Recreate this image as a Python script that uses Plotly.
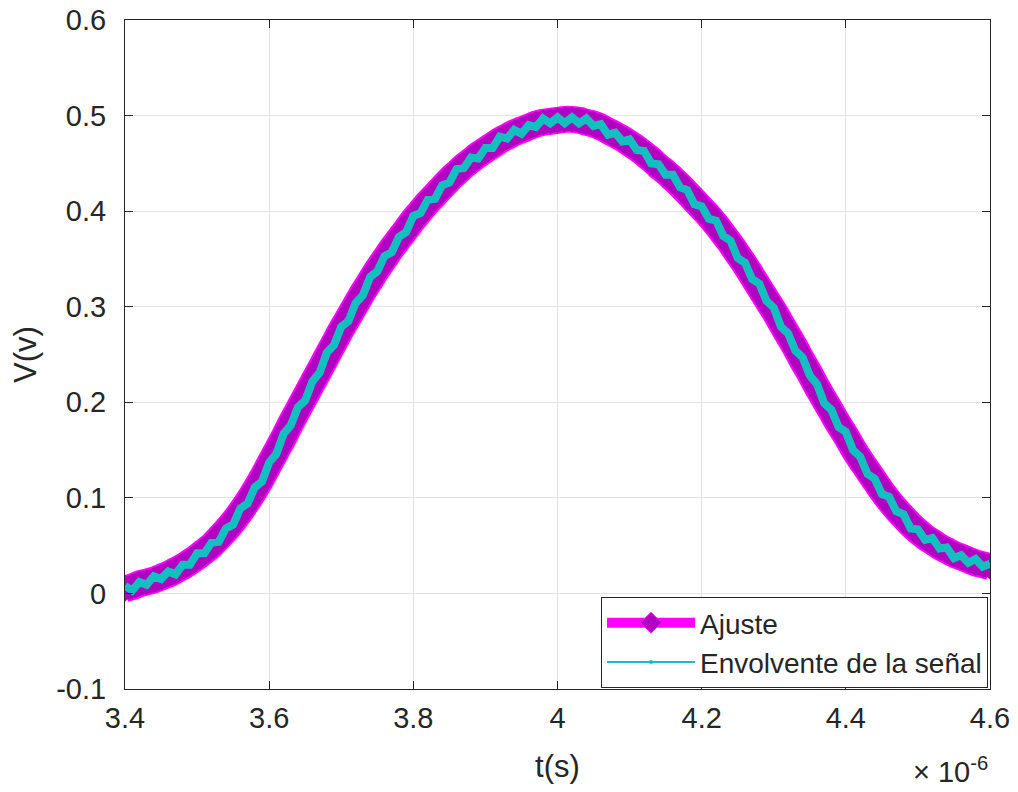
import plotly.graph_objects as go

# time axis in microseconds (the axis shows a x10^-6 multiplier)
t_us = [round(3.40 + 0.01 * i, 2) for i in range(121)]

ajuste = [
    0.005, 0.007, 0.010, 0.012, 0.014, 0.017, 0.020, 0.024, 0.028, 0.033,
    0.038, 0.044, 0.050, 0.058, 0.066, 0.075, 0.085, 0.096, 0.108, 0.121,
    0.135, 0.149, 0.163, 0.178, 0.192, 0.206, 0.220, 0.234, 0.248, 0.262,
    0.276, 0.289, 0.302, 0.315, 0.327, 0.339, 0.350, 0.361, 0.371, 0.381,
    0.391, 0.400, 0.409, 0.417, 0.425, 0.433, 0.440, 0.447, 0.453, 0.459,
    0.464, 0.469, 0.474, 0.478, 0.482, 0.485, 0.488, 0.491, 0.493, 0.494,
    0.495, 0.496, 0.496, 0.495, 0.493, 0.491, 0.488, 0.484, 0.480, 0.476,
    0.471, 0.466, 0.460, 0.454, 0.447, 0.441, 0.434, 0.427, 0.419, 0.411,
    0.403, 0.395, 0.386, 0.376, 0.366, 0.355, 0.344, 0.332, 0.320, 0.308,
    0.296, 0.283, 0.270, 0.257, 0.243, 0.230, 0.216, 0.203, 0.190, 0.177,
    0.165, 0.152, 0.140, 0.129, 0.118, 0.107, 0.097, 0.088, 0.080, 0.072,
    0.065, 0.059, 0.054, 0.049, 0.045, 0.041, 0.038, 0.035, 0.032, 0.030,
    0.028,
]

envolvente = [
    0.008, 0.003, 0.012, 0.009, 0.018, 0.015, 0.023, 0.020, 0.030, 0.030,
    0.042, 0.042, 0.053, 0.054, 0.068, 0.072, 0.089, 0.094, 0.111, 0.117,
    0.137, 0.146, 0.167, 0.176, 0.195, 0.202, 0.222, 0.231, 0.252, 0.260,
    0.279, 0.285, 0.304, 0.312, 0.331, 0.337, 0.353, 0.357, 0.373, 0.378,
    0.395, 0.398, 0.412, 0.413, 0.427, 0.430, 0.444, 0.445, 0.456, 0.455,
    0.466, 0.466, 0.478, 0.476, 0.485, 0.481, 0.490, 0.488, 0.497, 0.492,
    0.498, 0.492, 0.498, 0.492, 0.497, 0.489, 0.491, 0.480, 0.482, 0.473,
    0.475, 0.464, 0.463, 0.450, 0.449, 0.438, 0.438, 0.425, 0.422, 0.407,
    0.405, 0.392, 0.390, 0.374, 0.369, 0.351, 0.346, 0.329, 0.324, 0.306,
    0.299, 0.279, 0.272, 0.254, 0.247, 0.228, 0.219, 0.199, 0.192, 0.174,
    0.169, 0.150, 0.143, 0.125, 0.120, 0.104, 0.101, 0.086, 0.083, 0.068,
    0.067, 0.056, 0.058, 0.047, 0.048, 0.037, 0.040, 0.032, 0.036, 0.028,
    0.031,
]

series_names = ["Ajuste", "Envolvente de la señal"]
x_ticks = [3.4, 3.6, 3.8, 4.0, 4.2, 4.4, 4.6]
x_tick_text = ["3.4", "3.6", "3.8", "4", "4.2", "4.4", "4.6"]
y_ticks = [-0.1, 0, 0.1, 0.2, 0.3, 0.4, 0.5, 0.6]
y_tick_text = ["-0.1", "0", "0.1", "0.2", "0.3", "0.4", "0.5", "0.6"]

FONT = "Liberation Sans, Arial, sans-serif"
TXT = "#262626"
MAGENTA = "#ff00ff"
PURPLE = "#b000c0"
CYAN = "#14bfbf"

fig = go.Figure()
# thick fitted curve: magenta rim with a purple core
fig.add_trace(go.Scatter(
    x=t_us, y=ajuste, name=series_names[0], mode="lines",
    line=dict(color=MAGENTA, width=27, shape="spline"),
    showlegend=False, legendgroup="a", hoverinfo="skip",
))
fig.add_trace(go.Scatter(
    x=t_us, y=ajuste, name=series_names[0], mode="lines+markers",
    line=dict(color=PURPLE, width=23, shape="spline"),
    marker=dict(symbol="diamond", size=20, color=PURPLE, line=dict(width=0)),
    showlegend=False, legendgroup="a",
))
# noisy envelope on top
fig.add_trace(go.Scatter(
    x=t_us, y=envolvente, name=series_names[1], mode="lines",
    line=dict(color=CYAN, width=8),
    showlegend=False, legendgroup="e",
))
# legend entries (styled like the reference legend)
fig.add_trace(go.Scatter(
    x=[None], y=[None], name=series_names[0], mode="lines+markers",
    line=dict(color=MAGENTA, width=10),
    marker=dict(symbol="diamond", size=20, color=PURPLE, line=dict(color=MAGENTA, width=1)),
    legendgroup="a",
))
fig.add_trace(go.Scatter(
    x=[None], y=[None], name=series_names[1], mode="lines+markers",
    line=dict(color=CYAN, width=2),
    marker=dict(symbol="circle", size=4, color=CYAN),
    legendgroup="e",
))

axis_common = dict(
    showline=True, linecolor="#262626", linewidth=1, mirror="allticks",
    ticks="inside", ticklen=8, tickcolor="#262626",
    showgrid=True, gridcolor="#e3e3e3", gridwidth=1,
    zeroline=False, automargin=False,
    tickfont=dict(family=FONT, size=29, color=TXT),
)

fig.update_layout(
    width=1018, height=792,
    margin=dict(l=125, r=28, t=20, b=103),
    paper_bgcolor="white", plot_bgcolor="white",
    font=dict(family=FONT, color=TXT),
    xaxis=dict(range=[3.4, 4.6], tickvals=x_ticks, ticktext=x_tick_text,
               ticklabelstandoff=3,
               title=dict(text="t(s)", font=dict(family=FONT, size=31, color=TXT), standoff=22),
               **axis_common),
    yaxis=dict(range=[-0.1, 0.6], tickvals=y_ticks, ticktext=y_tick_text,
               ticklabelstandoff=12,
               title=dict(text="V(v)", font=dict(family=FONT, size=31, color=TXT), standoff=10),
               **axis_common),
    legend=dict(x=0.9977, y=0.0015, xanchor="right", yanchor="bottom",
                bgcolor="white", bordercolor="#262626", borderwidth=1,
                font=dict(family=FONT, size=28, color=TXT),
                itemwidth=88, tracegroupgap=0),
    showlegend=True,
)

fig.add_annotation(
    xref="paper", yref="paper", x=1.0, y=-0.151, xanchor="right", yanchor="bottom",
    text="× 10<sup>-6</sup>", showarrow=False,
    font=dict(family=FONT, size=29, color=TXT),
)

# remove the default page margin so the 1018x792 figure fills the window
fig.write_html("out.html", config={"displayModeBar": False},
               post_script="document.body.style.margin='0px';")
